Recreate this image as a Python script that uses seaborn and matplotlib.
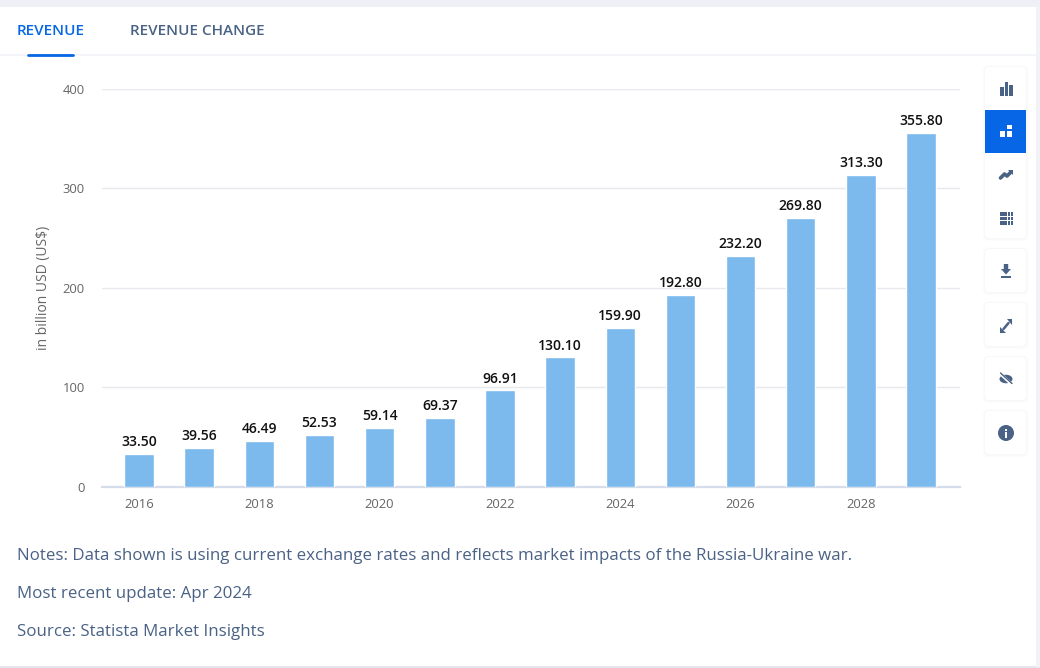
# -*- coding: utf-8 -*-
import matplotlib
matplotlib.use('Agg')
import numpy as np
import pandas as pd
import seaborn as sns
import matplotlib.pyplot as plt
from matplotlib.patches import FancyBboxPatch, Rectangle, Circle, Polygon, Ellipse

# data
years = [2016, 2017, 2018, 2019, 2020, 2021, 2022, 2023, 2024, 2025, 2026, 2027, 2028, 2029]
revenue = [33.50, 39.56, 46.49, 52.53, 59.14, 69.37, 96.91, 130.10, 159.90, 192.80, 232.20, 269.80, 313.30, 355.80]
y_ticks = [0, 100, 200, 300, 400]
notes = ['Notes: Data shown is using current exchange rates and reflects market impacts of the Russia-Ukraine war.',
         'Most recent update: Apr 2024',
         'Source: Statista Market Insights']
tabs = ['REVENUE', 'REVENUE CHANGE']

W, H = 1040, 668
BLUE = '#0666e5'
SLATE = '#4a6285'

sns.set_style('white')
plt.rcParams['font.family'] = ['Open Sans', 'DejaVu Sans']

fig = plt.figure(figsize=(W / 100, H / 100), dpi=100, facecolor='white')

# page layer in pixel coordinates
bg = fig.add_axes([0, 0, 1, 1], zorder=0)
bg.set_xlim(0, W)
bg.set_ylim(H, 0)
bg.axis('off')
bg.add_patch(Rectangle((0, 0), W, 7, color='#edf0f4', lw=0))
bg.add_patch(Rectangle((0, 665.5), W, 2.5, color='#e3e6ea', lw=0))
bg.add_patch(Rectangle((1036, 7), 4, 660, color='#f1f3f6', lw=0))
bg.plot([0, 1036], [54.5, 54.5], color='#f2f4f7', lw=1.2)
bg.plot([28, 73], [55, 55], color=BLUE, lw=2)

bg.text(17, 31, tabs[0], color=BLUE, fontsize=11, va='center', ha='left', fontweight='semibold')
bg.text(130, 31, tabs[1], color=SLATE, fontsize=11, va='center', ha='left', fontweight='semibold')

for t, yy in zip(notes, [555.5, 593.5, 631.5]):
    bg.text(17, yy, t, color=SLATE, fontsize=12.15, va='center', ha='left')


# side buttons
def card(x, y, w, h):
    for i in range(4, 0, -1):
        bg.add_patch(FancyBboxPatch((x - i * 0.6, y - i * 0.4), w + i * 1.2, h + i * 1.2,
                                    boxstyle='round,pad=0,rounding_size=5',
                                    fc='#1c2d4a', alpha=0.008, lw=0))
    bg.add_patch(FancyBboxPatch((x, y), w, h, boxstyle='round,pad=0,rounding_size=4',
                                fc='white', lw=0))


card(985, 67, 41, 171)
for yy in [249, 303, 357, 411]:
    card(985, yy, 41, 43)
bg.add_patch(Rectangle((985, 110), 41, 43, color=BLUE, lw=0))

# bar icon
for xx, top in [(1000, 87), (1004.5, 82), (1009, 85)]:
    bg.add_patch(Rectangle((xx, top), 3.6, 96 - top, color=SLATE, lw=0))
# stacked icon
for xx, yy, w, h in [(1000, 130.5, 5, 3), (1000, 134.2, 5, 3),
                     (1007, 125, 5.4, 4.4), (1007, 130.5, 5.4, 6.7)]:
    bg.add_patch(Rectangle((xx, yy), w, h, color='white', lw=0))
# trend icon
bg.plot([1000.5, 1004.5, 1007, 1011], [178, 174, 176, 172], color=SLATE, lw=2.6)
bg.add_patch(Polygon([[1008, 170], [1013, 170], [1013, 175]], color=SLATE, lw=0))
# table icon
for yy in [212, 216.5, 221]:
    bg.add_patch(Rectangle((999.5, yy), 7, 3.6, color=SLATE, lw=0))
    bg.add_patch(Rectangle((1007.5, yy), 2.4, 3.6, color=SLATE, lw=0))
    bg.add_patch(Rectangle((1011, yy), 2.4, 3.6, color=SLATE, lw=0))
# download icon
bg.add_patch(Polygon([[1003.8, 264], [1008.2, 264], [1008.2, 269], [1011, 269], [1006, 274.5], [1001, 269], [1003.8, 269]],
                     color=SLATE, lw=0))
bg.add_patch(Rectangle((1001, 276.3), 10, 1.8, color=SLATE, lw=0))
# expand icon
bg.plot([1003.5, 1008.5], [329, 323], color=SLATE, lw=1.8)
bg.add_patch(Polygon([[1006.5, 319], [1012, 319], [1012, 324.5]], color=SLATE, lw=0))
bg.add_patch(Polygon([[1000, 327], [1000, 332.5], [1005.5, 332.5]], color=SLATE, lw=0))
# hidden icon
bg.add_patch(Ellipse((1006, 379), 13, 8.5, color=SLATE, lw=0))
bg.plot([1000, 1012], [373.5, 384.5], color='white', lw=2.2)
bg.plot([1000.5, 1012], [373, 383.5], color=SLATE, lw=1)
# info icon
bg.add_patch(Circle((1006, 433), 8, color=SLATE, lw=0))
bg.add_patch(Rectangle((1005, 432), 2.2, 5.5, color='white', lw=0))
bg.add_patch(Rectangle((1005, 428.5), 2.2, 2, color='white', lw=0))

# chart
ax = fig.add_axes([102 / W, 1 - 487 / H, (960 - 102) / W, (487 - 88.5) / H], zorder=1)
ax.patch.set_alpha(0)
df = pd.DataFrame({'year': years, 'revenue': revenue})
sns.barplot(data=df, x='year', y='revenue', color='#7cb9ec', saturation=1, width=0.49, ax=ax, zorder=3)
ax.set_xlim(-0.615, 13.648)
ax.set_ylim(0, 400)

ax.set_yticks(y_ticks)
ax.set_yticklabels([str(v) for v in y_ticks])
ax.set_xticks(range(0, len(years), 2))
ax.set_xticklabels([str(y) for y in years[::2]])
ax.grid(axis='y', color='#e6e9ed', lw=1)
ax.set_axisbelow(True)
sns.despine(ax=ax, left=True, right=True, top=True)
ax.spines['bottom'].set_color('#d5dcea')
ax.spines['bottom'].set_linewidth(1.6)
ax.tick_params(axis='y', length=0, pad=12.5, labelsize=9.4, labelcolor='#666666')
ax.tick_params(axis='x', length=7, width=1, color='#d5dcea', pad=1, labelsize=9.4, labelcolor='#666666')
ax.set_xlabel('')
ax.set_ylabel('in billion USD (US$)', fontsize=10, color='#666666', labelpad=0)
ax.yaxis.set_label_coords((50.5 - 102) / (960 - 102), 0.5)

for i, v in enumerate(revenue):
    ax.annotate(f'{v:.2f}', (i, v), xytext=(0, 3.5), textcoords='offset points',
                ha='center', va='bottom', fontsize=10, color='#111111', fontweight='semibold')

fig.savefig('out.png', dpi=100, facecolor='white')
